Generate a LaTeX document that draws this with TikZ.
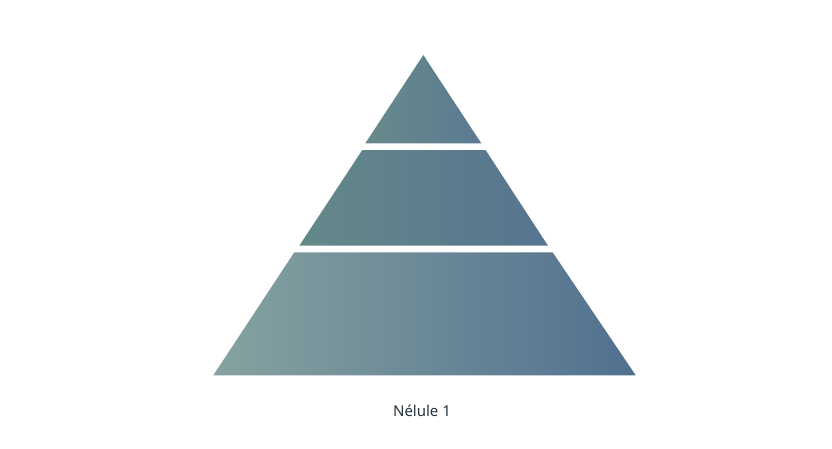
\documentclass[tikz,border=0pt]{standalone}
\usepackage{fontspec}
\setmainfont{Noto Sans}
\definecolor{txt}{HTML}{26343F}
\definecolor{botL}{HTML}{86A2A0}
\definecolor{botR}{HTML}{51708F}
\definecolor{midL}{HTML}{64898A}
\definecolor{midR}{HTML}{57748F}
\definecolor{topL}{HTML}{688A8A}
\definecolor{topR}{HTML}{5B7A93}
\begin{document}
\begin{tikzpicture}[x=1pt,y=-1pt]
\useasboundingbox[fill=white] (0,0) rectangle (832,448);
% tiers
\shade[left color=topL,right color=topR] (423.3,55) -- (481.3,143.3) -- (365.3,143.3) -- cycle;
\shade[left color=midL,right color=midR] (362.3,150) -- (485.6,150) -- (548,245.7) -- (299.3,245.7) -- cycle;
\shade[left color=botL,right color=botR] (294.3,252.3) -- (552.6,252.3) -- (635.7,375.3) -- (213.3,375.3) -- cycle;
\node[text=txt,font=\fontsize{15}{18}\selectfont] (label) at (422,411) {Nélule 1};
\end{tikzpicture}
\end{document}
